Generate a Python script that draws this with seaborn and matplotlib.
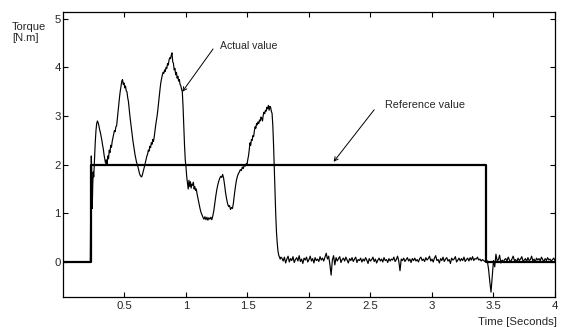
import numpy as np
import pandas as pd
import matplotlib
matplotlib.use("Agg")
import matplotlib.pyplot as plt
import seaborn as sns

# Reference torque command: step on at 0.226 s, off at 3.44 s
ref_time = [0.0, 0.226, 3.44, 4.0]
ref_torque = [0.0, 2.0, 0.0, 0.0]

# Measured torque during the transient (irregularly sampled section)
shape_time = [
    0.000, 0.222, 0.226, 0.230, 0.234, 0.238, 0.242, 0.246, 0.250, 0.256,
    0.262, 0.268, 0.274, 0.280, 0.286, 0.292, 0.298, 0.304, 0.310, 0.316,
    0.322, 0.328, 0.334, 0.340, 0.346, 0.352, 0.358, 0.364, 0.370, 0.376,
    0.382, 0.388, 0.394, 0.400, 0.406, 0.412, 0.418, 0.424, 0.430, 0.436,
    0.442, 0.448, 0.454, 0.460, 0.466, 0.472, 0.478, 0.484, 0.490, 0.496,
    0.502, 0.508, 0.514, 0.520, 0.526, 0.532, 0.538, 0.544, 0.550, 0.556,
    0.562, 0.568, 0.574, 0.580, 0.586, 0.592, 0.598, 0.604, 0.610, 0.616,
    0.622, 0.628, 0.634, 0.640, 0.646, 0.652, 0.658, 0.664, 0.670, 0.676,
    0.682, 0.688, 0.694, 0.700, 0.706, 0.712, 0.718, 0.724, 0.730, 0.736,
    0.742, 0.748, 0.754, 0.760, 0.766, 0.772, 0.778, 0.784, 0.790, 0.796,
    0.802, 0.808, 0.814, 0.820, 0.826, 0.832, 0.838, 0.844, 0.850, 0.856,
    0.862, 0.868, 0.874, 0.880, 0.886, 0.892, 0.898, 0.904, 0.910, 0.916,
    0.922, 0.928, 0.934, 0.940, 0.946, 0.952, 0.958, 0.964, 0.970, 0.976,
    0.982, 0.988, 0.994, 1.000, 1.006, 1.012, 1.018, 1.024, 1.030, 1.036,
    1.042, 1.048, 1.054, 1.060, 1.066, 1.072, 1.078, 1.084, 1.090, 1.098,
    1.106, 1.114, 1.122, 1.130, 1.138, 1.146, 1.154, 1.162, 1.170, 1.178,
    1.186, 1.194, 1.202, 1.210, 1.218, 1.226, 1.234, 1.242, 1.250, 1.258,
    1.266, 1.274, 1.282, 1.290, 1.298, 1.306, 1.314, 1.322, 1.330, 1.338,
    1.346, 1.354, 1.362, 1.370, 1.378, 1.386, 1.394, 1.402, 1.410, 1.418,
    1.426, 1.434, 1.442, 1.450, 1.458, 1.466, 1.474, 1.482, 1.490, 1.496,
    1.502, 1.508, 1.514, 1.520, 1.526, 1.532, 1.538, 1.544, 1.550, 1.556,
    1.562, 1.568, 1.574, 1.580, 1.586, 1.592, 1.598, 1.604, 1.610, 1.616,
    1.622, 1.628, 1.634, 1.640, 1.646, 1.652, 1.658, 1.664, 1.670, 1.676,
    1.682, 1.688, 1.694, 1.700, 1.706, 1.712, 1.718, 1.724, 1.730, 1.736,
    1.742, 1.748, 1.754, 1.760, 1.766, 1.772,
]
shape_torque = [
    0.00, 0.00, 1.30, 2.18, 1.80, 1.10, 1.60, 1.85, 1.75, 2.10,
    2.45, 2.70, 2.85, 2.90, 2.86, 2.80, 2.72, 2.66, 2.58, 2.50,
    2.40, 2.32, 2.20, 2.12, 2.03, 2.10, 2.00, 2.18, 2.12, 2.30,
    2.25, 2.40, 2.36, 2.48, 2.55, 2.62, 2.70, 2.68, 2.78, 2.80,
    2.95, 3.10, 3.25, 3.40, 3.52, 3.62, 3.72, 3.75, 3.65, 3.68,
    3.58, 3.62, 3.52, 3.50, 3.38, 3.30, 3.15, 3.00, 2.88, 2.75,
    2.62, 2.50, 2.40, 2.30, 2.20, 2.12, 2.05, 2.00, 1.95, 1.88,
    1.82, 1.78, 1.76, 1.75, 1.80, 1.86, 1.92, 1.98, 2.05, 2.12,
    2.18, 2.22, 2.30, 2.28, 2.38, 2.35, 2.45, 2.42, 2.52, 2.48,
    2.58, 2.70, 2.82, 2.92, 3.02, 3.15, 3.30, 3.45, 3.58, 3.70,
    3.78, 3.85, 3.90, 3.88, 3.95, 3.92, 4.00, 3.98, 4.08, 4.05,
    4.15, 4.20, 4.18, 4.25, 4.30, 4.12, 4.08, 3.95, 3.98, 3.85,
    3.90, 3.78, 3.82, 3.72, 3.75, 3.65, 3.62, 3.55, 3.50, 3.20,
    2.80, 2.40, 2.10, 1.95, 1.75, 1.62, 1.50, 1.68, 1.55, 1.65,
    1.52, 1.60, 1.58, 1.64, 1.50, 1.55, 1.47, 1.50, 1.40, 1.30,
    1.20, 1.10, 1.02, 0.97, 0.92, 0.88, 0.93, 0.87, 0.92, 0.86,
    0.91, 0.88, 0.92, 0.87, 0.95, 1.05, 1.20, 1.35, 1.48, 1.58,
    1.66, 1.72, 1.76, 1.74, 1.80, 1.72, 1.58, 1.42, 1.30, 1.20,
    1.14, 1.16, 1.08, 1.12, 1.10, 1.22, 1.40, 1.55, 1.68, 1.76,
    1.82, 1.85, 1.90, 1.88, 1.95, 1.92, 2.00, 1.97, 2.02, 2.00,
    2.10, 2.18, 2.30, 2.45, 2.40, 2.52, 2.50, 2.60, 2.58, 2.70,
    2.78, 2.75, 2.85, 2.82, 2.88, 2.85, 2.92, 2.90, 2.98, 2.95,
    2.90, 3.02, 3.08, 3.05, 3.12, 3.10, 3.18, 3.15, 3.22, 3.12,
    3.20, 3.18, 3.10, 3.05, 2.80, 2.40, 1.90, 1.40, 0.95, 0.60,
    0.38, 0.22, 0.14, 0.10, 0.06, 0.10,
]

# Measured torque after the transient, logged every 10 ms from 1.78 s
tail_start = 1.78
tail_step = 0.01
tail_torque = [
    0.08, 0.02, 0.10, -0.02, 0.06, 0.12, 0.00, 0.07, 0.03, 0.11,
    -0.01, 0.05, 0.09, 0.02, 0.13, 0.01, 0.06, -0.03, 0.08, 0.04,
    0.10, 0.00, 0.05, 0.12, 0.02, 0.07, -0.02, 0.09, 0.03, 0.06,
    0.01, 0.11, 0.04, 0.08, 0.02, 0.10, 0.18, 0.06, 0.12, -0.05,
    -0.27, 0.04, 0.13, -0.06, 0.09, 0.02, 0.07, 0.11, -0.01, 0.05,
    0.08, 0.02, 0.10, 0.04, -0.02, 0.07, 0.03, 0.09, 0.01, 0.06,
    0.10, -0.01, 0.05, 0.03, 0.08, 0.00, 0.06, 0.02, 0.09, 0.04,
    -0.03, 0.07, 0.02, 0.05, 0.10, 0.01, 0.06, -0.02, 0.04, 0.08,
    0.02, 0.06, 0.00, 0.09, 0.03, 0.05, -0.01, 0.07, 0.02, 0.06,
    0.04, 0.10, 0.01, 0.05, 0.12, 0.02, -0.18, 0.06, 0.03, 0.08,
    0.01, 0.05, 0.09, 0.02, 0.06, -0.01, 0.07, 0.03, 0.08, 0.02,
    0.05, 0.00, 0.07, 0.10, 0.03, 0.06, 0.01, 0.09, 0.04, 0.07,
    0.12, 0.02, 0.06, 0.00, 0.08, 0.13, 0.03, 0.05, -0.02, 0.07,
    0.03, 0.10, 0.01, 0.06, 0.09, 0.02, 0.05, -0.03, 0.08, 0.04,
    0.06, 0.11, 0.00, 0.04, 0.08, 0.02, 0.07, 0.03, 0.10, 0.01,
    0.05, 0.08, 0.02, 0.09, 0.04, 0.11, 0.03, 0.07, 0.06, 0.10,
    0.04, 0.06, 0.02, 0.05, 0.03, 0.01, 0.04, 0.02, -0.15, -0.40,
    -0.62, -0.28, 0.03, -0.10, 0.16, 0.02, 0.05, 0.14, -0.02, 0.04,
    0.00, 0.05, 0.07, 0.02, 0.10, 0.04, 0.01, 0.06, 0.12, 0.03,
    0.05, 0.00, 0.08, 0.03, 0.06, 0.11, 0.02, 0.04, 0.07, 0.01,
    0.09, 0.03, 0.05, 0.12, 0.02, 0.06, 0.00, 0.08, 0.04, 0.07,
    0.02, 0.10, 0.05, 0.01, 0.07, 0.03, 0.09, 0.04, 0.06, 0.02,
    0.05, 0.08, 0.03,
]

x_ticks = [0.5, 1, 1.5, 2, 2.5, 3, 3.5, 4]
x_tick_labels = ["0.5", "1", "1.5", "2", "2.5", "3", "3.5", "4"]
y_ticks = [0, 1, 2, 3, 4, 5]
y_tick_labels = ["0", "1", "2", "3", "4", "5"]

tail_time = [round(tail_start + i * tail_step, 3) for i in range(len(tail_torque))]
actual = pd.DataFrame({
    "time": shape_time + tail_time,
    "torque": shape_torque + tail_torque,
})
reference = pd.DataFrame({"time": ref_time, "torque": ref_torque})

sns.set_style("ticks")
plt.rcParams["font.family"] = ["Liberation Sans", "DejaVu Sans"]
plt.rcParams["font.size"] = 7.5

fig = plt.figure(figsize=(5.62, 3.27), dpi=100)
ax = fig.add_axes([0.1121, 0.0917, 0.8754, 0.8716])

sns.lineplot(data=reference, x="time", y="torque", ax=ax, color="black",
             linewidth=1.6, drawstyle="steps-post", estimator=None, sort=False)
sns.lineplot(data=actual, x="time", y="torque", ax=ax, color="black",
             linewidth=0.85, estimator=None, sort=False)

ax.set_xlim(0, 4)
ax.set_ylim(-0.72, 5.14)
ax.set_xticks(x_ticks)
ax.set_xticklabels(x_tick_labels)
ax.set_yticks(y_ticks)
ax.set_yticklabels(y_tick_labels)
ax.set_xlabel("")
ax.set_ylabel("")
ax.tick_params(axis="both", direction="in", length=3.5, width=0.8,
               top=True, right=True, labelsize=8.2, color="black")
ax.tick_params(axis="x", pad=3)
ax.tick_params(axis="y", pad=1.5)
for spine in ax.spines.values():
    spine.set_visible(True)
    spine.set_color("black")
    spine.set_linewidth(0.9)

arrow = dict(arrowstyle="->", color="black", lw=0.7, mutation_scale=7,
             shrinkA=0, shrinkB=0)
ax.annotate("", xy=(0.97, 3.5), xytext=(1.22, 4.38), arrowprops=arrow)
ax.text(1.28, 4.44, "Actual value", ha="left", va="center", fontsize=7.6)
ax.annotate("", xy=(2.2, 2.06), xytext=(2.53, 3.13), arrowprops=arrow)
ax.text(2.62, 3.23, "Reference value", ha="left", va="center", fontsize=7.8)

fig.text(557 / 562, 1 - 322 / 327, "Time [Seconds]", ha="right", va="center",
         fontsize=8.2)
fig.text(12 / 562, 1 - 22 / 327, "Torque\n[N.m]", ha="left", va="top",
         fontsize=8, linespacing=1.1)

fig.savefig("out.png", dpi=100)
